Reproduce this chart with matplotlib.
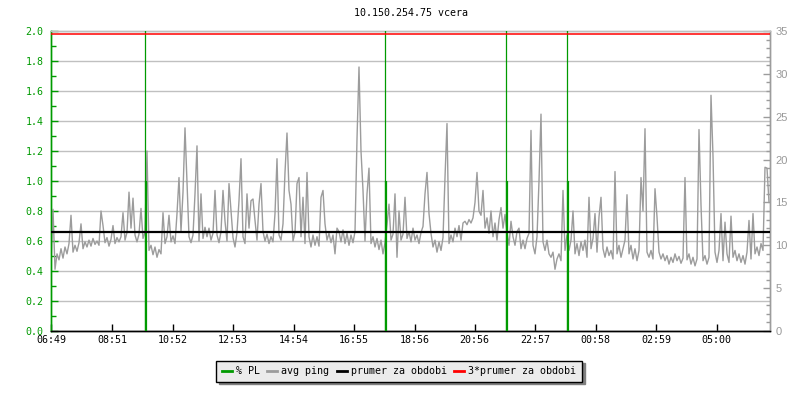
import matplotlib
matplotlib.use('Agg')
import matplotlib.pyplot as plt
from matplotlib.lines import Line2D
from matplotlib.ticker import MultipleLocator
import numpy as np

title = '10.150.254.75 vcera'
time_labels = ['06:49', '08:51', '10:52', '12:53', '14:54', '16:55',
               '18:56', '20:56', '22:57', '00:58', '02:59', '05:00']
legend_labels = ['% PL', 'avg ping', 'prumer za obdobi', '3*prumer za obdobi']

# avg ping [ms], one sample every 4 minutes from 06:49
step_min = 4
avg_ping = [
    7.5, 14.2, 7.2, 9.0, 8.3, 9.6, 8.5, 9.8, 9.0, 10.2,
    13.5, 9.2, 10.0, 9.3, 10.3, 12.5, 9.6, 10.4, 9.8, 10.6,
    9.9, 10.8, 10.1, 10.5, 10.0, 14.0, 12.3, 10.3, 10.9, 9.9,
    10.7, 12.3, 10.2, 10.9, 10.4, 11.0, 13.8, 10.6, 11.5, 16.2,
    12.0, 15.5, 11.2, 10.4, 11.3, 14.3, 10.8, 11.5, 21.0, 9.4,
    10.0, 8.9, 9.8, 8.6, 9.5, 9.0, 13.8, 10.2, 11.0, 13.5,
    10.4, 11.1, 10.2, 13.7, 17.9, 11.6, 16.2, 23.7, 17.5, 11.0,
    10.3, 11.2, 16.0, 21.6, 10.5, 16.0, 10.8, 12.1, 11.0, 12.0,
    10.6, 11.4, 16.4, 11.2, 10.3, 11.6, 16.4, 12.8, 10.5, 17.2,
    14.0, 10.9, 9.8, 11.5, 15.2, 20.1, 11.0, 10.2, 16.0, 12.0,
    15.2, 15.4, 12.9, 10.6, 14.8, 17.2, 11.6, 10.5, 11.3, 10.2,
    11.0, 10.4, 13.7, 20.1, 11.2, 10.6, 12.5, 18.5, 23.1, 16.4,
    14.8, 10.5, 11.5, 17.2, 17.9, 11.0, 15.6, 10.2, 18.5, 11.0,
    9.8, 11.2, 10.0, 11.0, 9.9, 15.6, 16.4, 12.5, 10.6, 11.4,
    10.3, 11.2, 9.0, 12.0, 11.6, 10.4, 11.8, 10.2, 11.4, 10.0,
    11.2, 10.3, 11.6, 22.4, 30.8, 21.0, 16.4, 10.5, 16.0, 19.0,
    10.2, 11.0, 9.8, 10.8, 9.5, 10.6, 9.0, 10.3, 12.4, 14.8,
    10.6, 11.3, 16.0, 8.6, 14.0, 10.6, 11.3, 15.6, 10.8, 11.6,
    10.4, 12.0, 10.6, 11.2, 10.2, 11.5, 12.2, 16.0, 18.5, 13.7,
    11.4, 9.8, 10.6, 9.2, 10.4, 9.4, 10.9, 17.9, 24.2, 10.2,
    11.2, 10.4, 12.0, 11.0, 12.3, 10.6, 12.6, 12.8, 12.4, 13.0,
    12.6, 13.2, 15.0, 18.5, 14.0, 13.5, 16.4, 12.0, 13.2, 11.4,
    14.0, 11.0, 12.6, 10.6, 13.0, 14.4, 12.0, 13.6, 11.5, 10.0,
    12.8, 11.0, 10.0, 11.6, 12.0, 9.6, 10.6, 9.6, 10.8, 11.4,
    23.4, 10.0, 9.0, 11.0, 17.5, 25.3, 10.4, 9.4, 10.6, 9.0,
    8.6, 9.2, 7.2, 8.4, 9.0, 8.2, 16.4, 9.4, 11.2, 9.4,
    10.6, 14.0, 9.0, 10.2, 8.8, 10.4, 9.4, 10.6, 8.6, 15.6,
    9.6, 10.8, 13.7, 9.2, 13.3, 15.6, 9.6, 8.6, 9.8, 8.8,
    9.4, 8.4, 18.6, 9.0, 10.0, 8.6, 9.6, 10.6, 15.9, 9.0,
    10.0, 8.4, 9.6, 8.2, 9.4, 17.9, 14.0, 23.6, 9.2, 8.6,
    9.4, 8.4, 16.6, 13.3, 9.2, 8.4, 9.0, 8.2, 8.8, 7.8,
    8.6, 8.0, 9.0, 8.2, 8.7, 7.9, 8.5, 17.9, 8.3, 9.0,
    7.8, 8.6, 7.6, 8.4, 23.5, 14.7, 8.2, 8.8, 7.8, 8.6,
    27.5, 20.4, 9.2, 8.0, 9.4, 13.7, 8.2, 12.7, 9.0, 8.0,
    13.4, 8.6, 9.4, 8.2, 9.0, 8.0, 8.8, 7.8, 9.2, 12.9,
    8.4, 13.7, 9.0, 9.8, 8.8, 10.2, 9.4, 19.1, 19.0, 15.0,
]
mean_ping = 11.55  # prumer za obdobi [ms]

# packet loss events [minutes after 06:49], values in %
pl_minutes = [189, 669, 911, 1033]
pl_peak = [2.5, 2.5, 2.5, 2.5]
pl_base = [1.0, 1.0, 1.0, 1.0]

GREEN = '#009a00'
GRAY = '#9c9c9c'
GRID = '#c0c0c0'
mono = {'family': 'DejaVu Sans Mono', 'size': 7.2}


def minutes_from_start(label):
    h, m = map(int, label.split(':'))
    return (h * 60 + m - (6 * 60 + 49)) % 1440


fig = plt.figure(figsize=(8, 4), dpi=100)
ax = fig.add_axes([51 / 800, 69 / 400, 719 / 800, 300 / 400])
ax2 = ax.twinx()

t = np.arange(len(avg_ping)) * step_min
ax.set_xlim(0, 1438)
ax.set_ylim(0, 2.0)
ax2.set_ylim(0, 35)

# grid on the bottom axes
ax.yaxis.set_major_locator(MultipleLocator(0.2))
ax.yaxis.set_minor_locator(MultipleLocator(0.1))
ax.grid(axis='y', color=GRID, lw=1.0)
ax.set_axisbelow(True)

ax2.plot(t, avg_ping, color=GRAY, lw=1.0, zorder=2)
ax2.vlines(np.array(pl_minutes) - 0.5, 0, pl_peak, color=GREEN, lw=0.9,
           transform=ax.transData, zorder=3)
ax2.vlines(np.array(pl_minutes) + 0.8, 0, pl_base, color=GREEN, lw=1.6,
           transform=ax.transData, zorder=3)
ax2.axhline(mean_ping, color='black', lw=1.6, zorder=4)
ax2.axhline(3 * mean_ping, color='#ff0000', lw=1.1, zorder=5)

ax.set_xticks([minutes_from_start(s) for s in time_labels])
ax.set_xticklabels(time_labels, fontdict=mono)
ax.tick_params(axis='x', direction='in', length=5, width=1, color='black', pad=3)
ax.tick_params(axis='y', which='major', direction='in', length=5, width=1,
               color=GREEN, labelcolor=GREEN, pad=5.5)
ax.tick_params(axis='y', which='minor', direction='in', length=3.5, width=1, color=GREEN)
ax.set_yticks(np.arange(0, 2.01, 0.2))
ax.set_yticklabels(['%.1f' % v for v in np.arange(0, 2.01, 0.2)], fontdict=mono)

ax2.yaxis.set_major_locator(MultipleLocator(5))
ax2.yaxis.set_minor_locator(MultipleLocator(1))
ax2.tick_params(axis='y', which='major', direction='in', length=5, width=1,
                color=GRAY, labelcolor='#999999', pad=4, labelsize=8)
ax2.tick_params(axis='y', which='minor', direction='in', length=3, width=1, color=GRAY)
for lab in ax2.get_yticklabels():
    lab.set_family('Liberation Sans')

for a in (ax, ax2):
    a.spines['top'].set_color(GRID)
    a.spines['left'].set_color(GREEN)
    a.spines['right'].set_color(GRAY)
    a.spines['bottom'].set_color('black')
    for s in a.spines.values():
        s.set_linewidth(1.0)

fig.text(410.5 / 800, 1 - 13 / 400, title, ha='center', va='center', fontdict=mono)

handles = [Line2D([], [], color=GREEN, lw=2),
           Line2D([], [], color=GRAY, lw=2),
           Line2D([], [], color='black', lw=2),
           Line2D([], [], color='#ff0000', lw=2)]
leg = fig.legend(handles, legend_labels, loc='center', bbox_to_anchor=(399 / 800, 1 - 371 / 400),
                 ncol=4, prop=mono, handlelength=1.0, handletextpad=0.4, columnspacing=0.75,
                 borderpad=0.55, fancybox=False, framealpha=1, facecolor='#ebebeb',
                 edgecolor='black', shadow={'color': '#808080', 'alpha': 1.0})
leg.get_frame().set_linewidth(1.0)

fig.savefig('out.png', dpi=100)
